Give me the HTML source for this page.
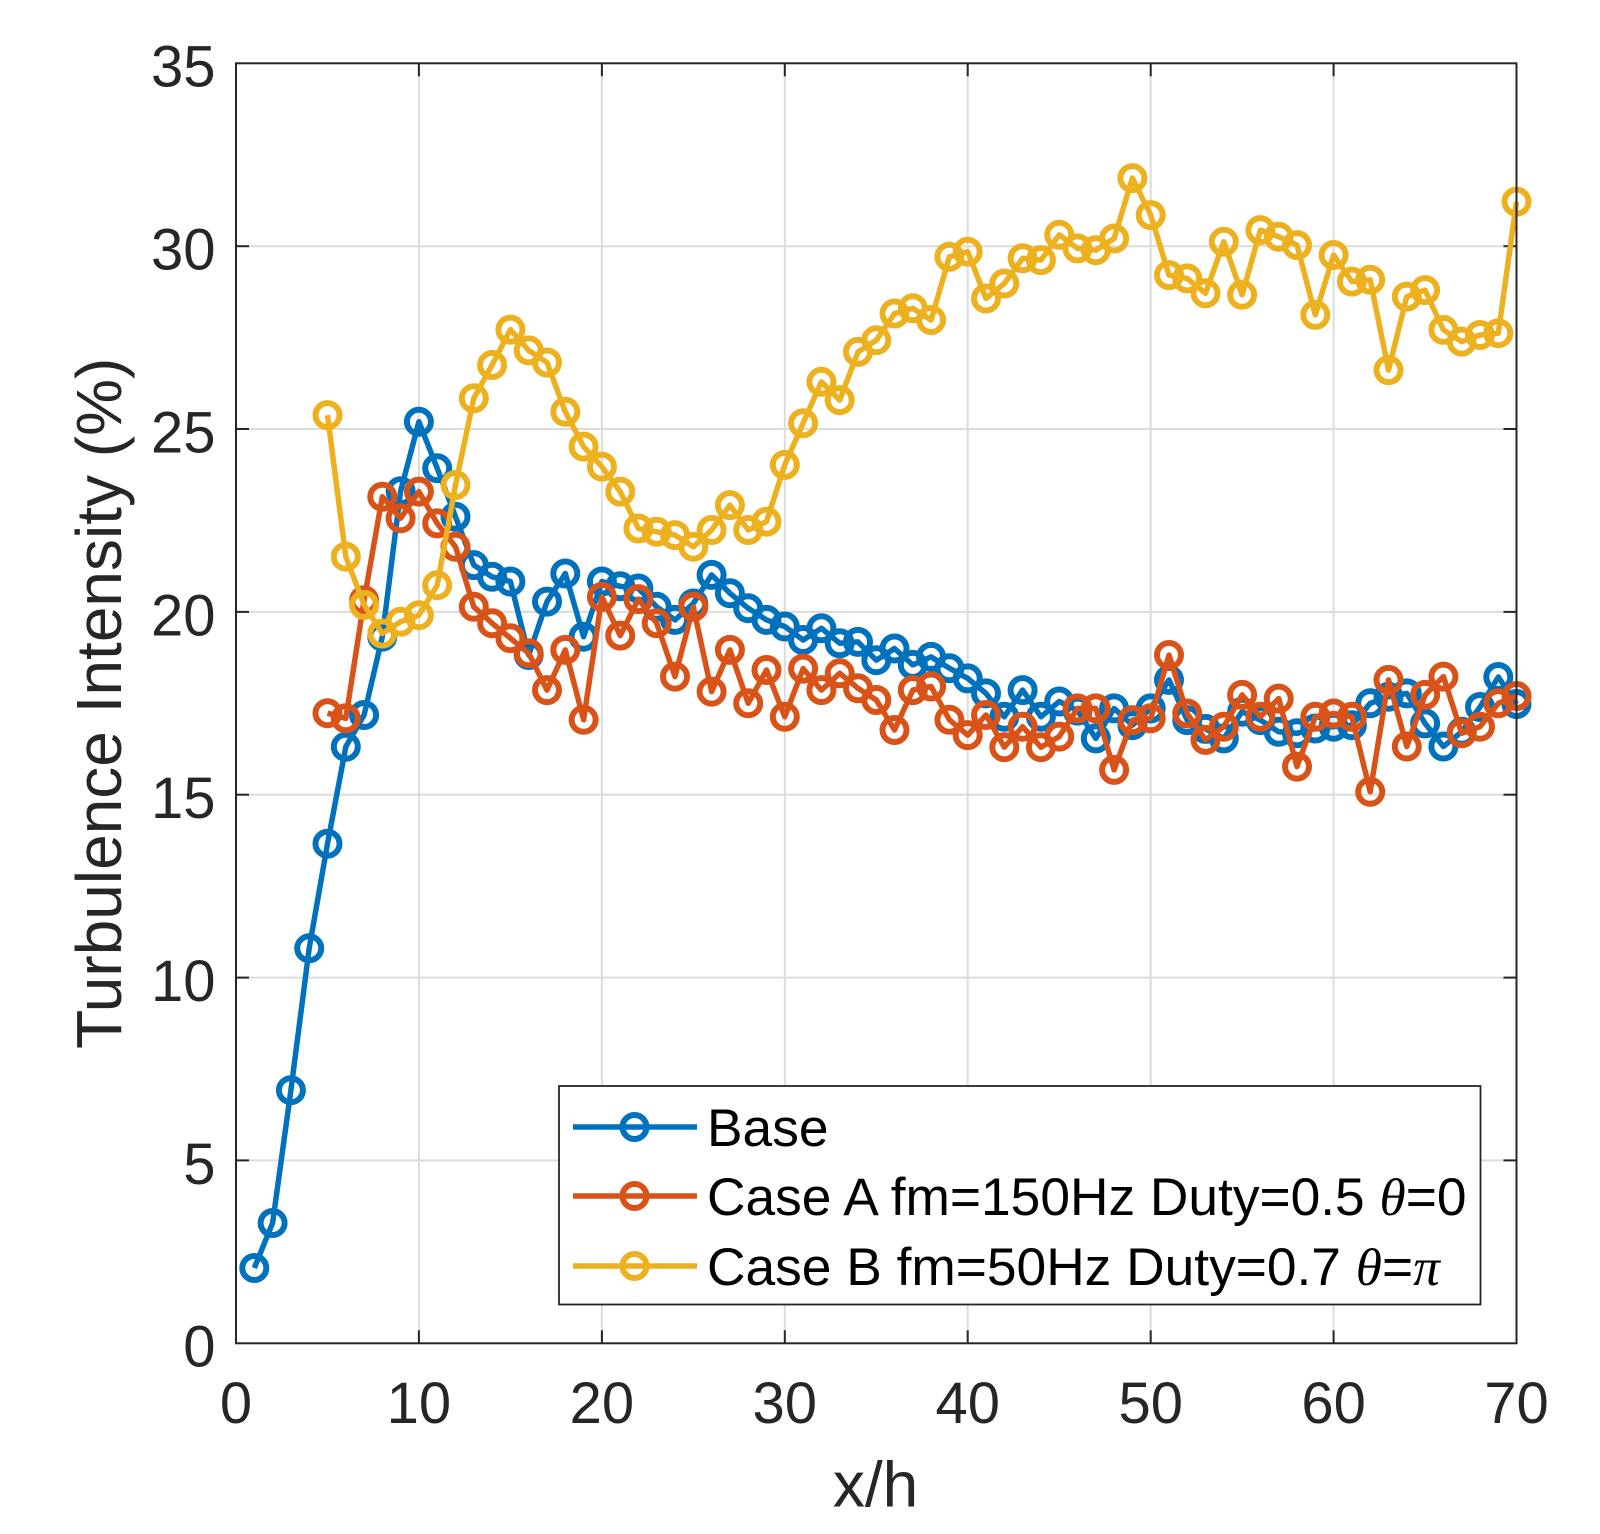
<!DOCTYPE html>
<html>
<head>
<meta charset="utf-8">
<style>
html,body{margin:0;padding:0;background:#fff;}
svg{display:block;}
text{font-family:"Liberation Sans",Arial,sans-serif;}
</style>
</head>
<body>
<svg width="1600" height="1534" viewBox="0 0 1600 1534" xmlns="http://www.w3.org/2000/svg">
<defs>
<marker id="mb" markerWidth="40" markerHeight="40" refX="20" refY="20" markerUnits="userSpaceOnUse" overflow="visible"><circle cx="20" cy="20" r="12" fill="none" stroke="#0072BD" stroke-width="6"/></marker>
<marker id="mo" markerWidth="40" markerHeight="40" refX="20" refY="20" markerUnits="userSpaceOnUse" overflow="visible"><circle cx="20" cy="20" r="12" fill="none" stroke="#D95319" stroke-width="6"/></marker>
<marker id="my" markerWidth="40" markerHeight="40" refX="20" refY="20" markerUnits="userSpaceOnUse" overflow="visible"><circle cx="20" cy="20" r="12" fill="none" stroke="#EDB120" stroke-width="6"/></marker>
</defs>
<rect x="0" y="0" width="1600" height="1534" fill="#fff"/>
<!-- grid -->
<g stroke="#dcdcdc" stroke-width="2">
<line x1="418.9" y1="63.3" x2="418.9" y2="1343.3"/>
<line x1="601.9" y1="63.3" x2="601.9" y2="1343.3"/>
<line x1="784.8" y1="63.3" x2="784.8" y2="1343.3"/>
<line x1="967.7" y1="63.3" x2="967.7" y2="1343.3"/>
<line x1="1150.7" y1="63.3" x2="1150.7" y2="1343.3"/>
<line x1="1333.6" y1="63.3" x2="1333.6" y2="1343.3"/>
<line x1="236" y1="1160.4" x2="1516.5" y2="1160.4"/>
<line x1="236" y1="977.6" x2="1516.5" y2="977.6"/>
<line x1="236" y1="794.7" x2="1516.5" y2="794.7"/>
<line x1="236" y1="611.9" x2="1516.5" y2="611.9"/>
<line x1="236" y1="429.0" x2="1516.5" y2="429.0"/>
<line x1="236" y1="246.2" x2="1516.5" y2="246.2"/>
</g>
<!-- ticks -->
<g stroke="#262626" stroke-width="2">
<line x1="418.9" y1="1343.3" x2="418.9" y2="1330.3"/><line x1="418.9" y1="63.3" x2="418.9" y2="76.3"/>
<line x1="601.9" y1="1343.3" x2="601.9" y2="1330.3"/><line x1="601.9" y1="63.3" x2="601.9" y2="76.3"/>
<line x1="784.8" y1="1343.3" x2="784.8" y2="1330.3"/><line x1="784.8" y1="63.3" x2="784.8" y2="76.3"/>
<line x1="967.7" y1="1343.3" x2="967.7" y2="1330.3"/><line x1="967.7" y1="63.3" x2="967.7" y2="76.3"/>
<line x1="1150.7" y1="1343.3" x2="1150.7" y2="1330.3"/><line x1="1150.7" y1="63.3" x2="1150.7" y2="76.3"/>
<line x1="1333.6" y1="1343.3" x2="1333.6" y2="1330.3"/><line x1="1333.6" y1="63.3" x2="1333.6" y2="76.3"/>
<line x1="236" y1="1160.4" x2="249" y2="1160.4"/><line x1="1516.5" y1="1160.4" x2="1503.5" y2="1160.4"/>
<line x1="236" y1="977.6" x2="249" y2="977.6"/><line x1="1516.5" y1="977.6" x2="1503.5" y2="977.6"/>
<line x1="236" y1="794.7" x2="249" y2="794.7"/><line x1="1516.5" y1="794.7" x2="1503.5" y2="794.7"/>
<line x1="236" y1="611.9" x2="249" y2="611.9"/><line x1="1516.5" y1="611.9" x2="1503.5" y2="611.9"/>
<line x1="236" y1="429.0" x2="249" y2="429.0"/><line x1="1516.5" y1="429.0" x2="1503.5" y2="429.0"/>
<line x1="236" y1="246.2" x2="249" y2="246.2"/><line x1="1516.5" y1="246.2" x2="1503.5" y2="246.2"/>
</g>
<!-- series -->
<g fill="none" stroke-width="5.5" stroke-linejoin="round">
<polyline stroke="#0072BD" marker-start="url(#mb)" marker-mid="url(#mb)" marker-end="url(#mb)" points="254.3,1268.0 272.6,1223.0 290.9,1090.2 309.2,948.3 327.5,843.7 345.8,746.8 364.1,715.0 382.3,636.7 400.6,491.2 418.9,421.7 437.2,468.2 455.5,516.8 473.8,565.1 492.1,576.8 510.4,581.5 528.7,655.0 547.0,601.6 565.3,573.5 583.6,636.7 601.9,581.5 620.2,586.3 638.4,588.5 656.7,606.8 675.0,619.9 693.3,603.5 711.6,574.9 729.9,593.2 748.2,608.2 766.5,619.9 784.8,626.5 803.1,640.0 821.4,628.3 839.7,643.3 858.0,641.9 876.3,660.2 894.5,648.5 912.8,664.9 931.1,656.9 949.4,668.2 967.7,678.4 986.0,693.4 1004.3,716.8 1022.6,690.1 1040.9,716.8 1059.2,701.5 1077.5,710.6 1095.8,738.4 1114.1,708.4 1132.4,725.2 1150.7,708.4 1169.0,679.9 1187.2,720.1 1205.5,728.9 1223.8,738.4 1242.1,711.7 1260.4,720.1 1278.7,731.8 1297.0,733.3 1315.3,728.5 1333.6,726.7 1351.9,725.2 1370.2,703.3 1388.5,696.7 1406.8,693.4 1425.1,723.4 1443.4,746.5 1461.7,731.8 1480.0,707.0 1498.3,677.0 1516.5,704.0"/>
<polyline stroke="#D95319" marker-start="url(#mo)" marker-mid="url(#mo)" marker-end="url(#mo)" points="327.5,713.2 345.8,718.3 364.1,600.2 382.3,496.7 400.6,518.3 418.9,491.6 437.2,523.4 455.5,546.8 473.8,606.8 492.1,623.2 510.4,638.2 528.7,653.2 547.0,690.1 565.3,649.9 583.6,719.8 601.9,596.9 620.2,635.6 638.4,599.1 656.7,623.2 675.0,676.6 693.3,606.8 711.6,691.6 729.9,649.9 748.2,703.3 766.5,670.0 784.8,716.8 803.1,668.6 821.4,690.1 839.7,673.3 858.0,688.3 876.3,700.0 894.5,730.0 912.8,690.1 931.1,686.5 949.4,719.8 967.7,735.1 986.0,715.0 1004.3,747.2 1022.6,726.7 1040.9,747.2 1059.2,736.6 1077.5,708.4 1095.8,708.4 1114.1,769.9 1132.4,720.1 1150.7,718.3 1169.0,655.0 1187.2,713.5 1205.5,739.9 1223.8,726.7 1242.1,694.9 1260.4,716.8 1278.7,698.6 1297.0,766.6 1315.3,716.8 1333.6,713.5 1351.9,716.8 1370.2,791.8 1388.5,679.9 1406.8,746.5 1425.1,694.9 1443.4,676.6 1461.7,733.3 1480.0,726.7 1498.3,703.3 1516.5,696.0"/>
<polyline stroke="#EDB120" marker-start="url(#my)" marker-mid="url(#my)" marker-end="url(#my)" points="327.5,415.1 345.8,556.7 364.1,604.9 382.3,633.5 400.6,621.7 418.9,615.2 437.2,585.2 455.5,485.0 473.8,398.3 492.1,365.0 510.4,329.6 528.7,350.4 547.0,362.5 565.3,411.8 583.6,446.6 601.9,466.7 620.2,491.6 638.4,528.5 656.7,531.8 675.0,535.1 693.3,546.8 711.6,530.0 729.9,505.1 748.2,530.0 766.5,521.6 784.8,464.9 803.1,423.2 821.4,381.8 839.7,400.1 858.0,351.9 876.3,340.2 894.5,313.5 912.8,308.3 931.1,320.0 949.4,256.8 967.7,251.7 986.0,298.5 1004.3,283.5 1022.6,258.3 1040.9,260.1 1059.2,234.8 1077.5,248.4 1095.8,250.2 1114.1,238.5 1132.4,178.1 1150.7,215.1 1169.0,275.1 1187.2,278.4 1205.5,293.3 1223.8,241.8 1242.1,294.8 1260.4,230.1 1278.7,236.7 1297.0,245.1 1315.3,314.9 1333.6,255.0 1351.9,281.6 1370.2,279.8 1388.5,370.1 1406.8,296.6 1425.1,290.1 1443.4,329.9 1461.7,341.6 1480.0,335.0 1498.3,333.2 1516.5,201.6"/>
</g>
<!-- axes box -->
<rect x="236" y="63.3" width="1280.5" height="1280" fill="none" stroke="#262626" stroke-width="2"/>
<!-- tick labels -->
<g fill="#262626" font-size="58" text-anchor="middle">
<text x="236" y="1423">0</text>
<text x="418.9" y="1423">10</text>
<text x="601.9" y="1423">20</text>
<text x="784.8" y="1423">30</text>
<text x="967.7" y="1423">40</text>
<text x="1150.7" y="1423">50</text>
<text x="1333.6" y="1423">60</text>
<text x="1516.5" y="1423">70</text>
</g>
<g fill="#262626" font-size="58" text-anchor="end">
<text x="215.5" y="1366.7">0</text>
<text x="215.5" y="1183.8">5</text>
<text x="215.5" y="1001.0">10</text>
<text x="215.5" y="818.1">15</text>
<text x="215.5" y="635.3">20</text>
<text x="215.5" y="452.4">25</text>
<text x="215.5" y="269.6">30</text>
<text x="215.5" y="86.7">35</text>
</g>
<!-- axis labels -->
<text x="875.5" y="1506.7" font-size="64" fill="#262626" text-anchor="middle">x/h</text>
<text transform="translate(121,703.3) rotate(-90)" font-size="64" fill="#262626" text-anchor="middle">Turbulence Intensity (%)</text>
<!-- legend -->
<rect x="559" y="1086" width="921.5" height="218.5" fill="#fff" stroke="#262626" stroke-width="1.8"/>
<g fill="none" stroke-width="5.5">
<line x1="573" y1="1127" x2="697" y2="1127" stroke="#0072BD"/>
<circle cx="634.5" cy="1127" r="12" stroke="#0072BD" stroke-width="6"/>
<line x1="573" y1="1196" x2="697" y2="1196" stroke="#D95319"/>
<circle cx="634.5" cy="1196" r="12" stroke="#D95319" stroke-width="6"/>
<line x1="573" y1="1266" x2="697" y2="1266" stroke="#EDB120"/>
<circle cx="634.5" cy="1266" r="12" stroke="#EDB120" stroke-width="6"/>
</g>
<g fill="#000" font-size="53.3">
<text x="707" y="1146">Base</text>
<text x="707" y="1215">Case A fm=150Hz Duty=0.5 <tspan font-family="'Liberation Serif',serif" font-style="italic">θ</tspan>=0</text>
<text x="707" y="1285">Case B fm=50Hz Duty=0.7 <tspan font-family="'Liberation Serif',serif" font-style="italic">θ</tspan>=<tspan font-family="'Liberation Serif',serif" font-style="italic">π</tspan></text>
</g>
</svg>
</body>
</html>
